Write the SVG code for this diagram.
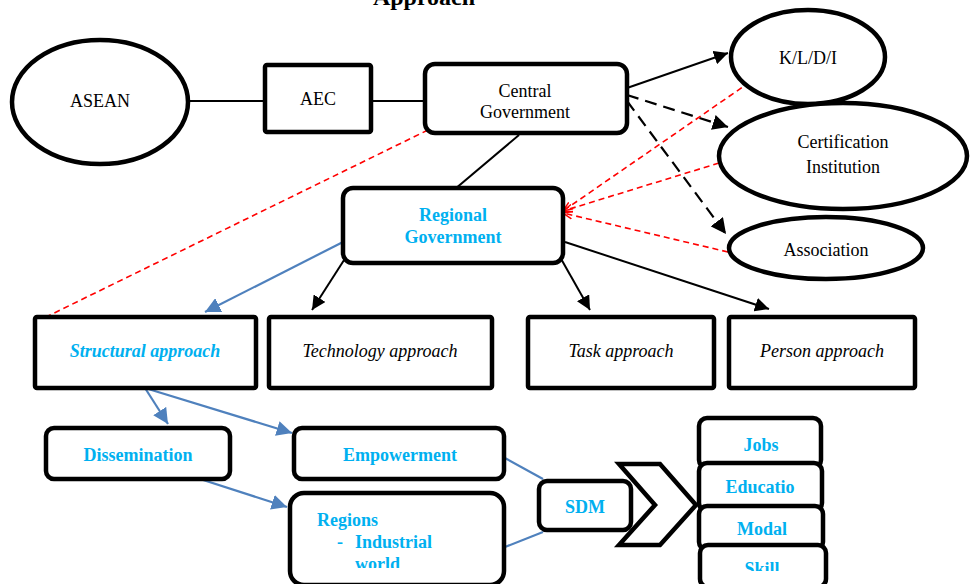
<svg xmlns="http://www.w3.org/2000/svg" width="973" height="584" viewBox="0 0 973 584">
<style>
text{font-family:"Liberation Serif","Times New Roman",serif;font-size:18px;fill:#000;text-anchor:middle}
.b{font-weight:bold;fill:#00B0F0}
.i{font-style:italic}
.sh{fill:#fff;stroke:#000;stroke-width:4.5}
.k{stroke:#000;stroke-width:2;fill:none}
.kd{stroke:#000;stroke-width:2.2;fill:none;stroke-dasharray:12,7}
.bl{stroke:#4F81BD;stroke-width:2.2;fill:none}
.rd{stroke:#FF0000;stroke-width:1.6;fill:none;stroke-dasharray:6,4}
</style>
<defs>
<marker id="ak" viewBox="0 0 10 10" refX="10" refY="5" markerWidth="7" markerHeight="7" orient="auto" markerUnits="strokeWidth"><path d="M0,0 L10,5 L0,10 z" fill="#000"/></marker>
<marker id="ab" viewBox="0 0 10 10" refX="10" refY="5" markerWidth="7" markerHeight="7" orient="auto" markerUnits="strokeWidth"><path d="M0,0 L10,5 L0,10 z" fill="#4F81BD"/></marker>
<marker id="ar" viewBox="0 0 10 10" refX="10" refY="5" markerWidth="6" markerHeight="6" orient="auto" markerUnits="strokeWidth"><path d="M0,1 L10,5 L0,9" fill="none" stroke="#FF0000" stroke-width="1.5"/></marker>
<clipPath id="cr"><rect x="289" y="492" width="216" height="76"/></clipPath>
<clipPath id="cs"><rect x="699" y="545" width="128" height="26"/></clipPath>
</defs>

<text x="424" y="5" style="font-weight:bold;font-size:24px">Approach</text>

<g id="connectors">
<line class="k" x1="189" y1="101" x2="265" y2="101"/>
<line class="k" x1="371" y1="101" x2="425" y2="101"/>
<line class="k" x1="519" y1="135" x2="455" y2="189"/>
<line class="k" x1="627" y1="88" x2="728" y2="53" marker-end="url(#ak)"/>
<line class="kd" x1="627" y1="95" x2="728" y2="127" marker-end="url(#ak)"/>
<line class="kd" x1="627" y1="101" x2="726" y2="234" marker-end="url(#ak)"/>
<line class="rd" x1="750" y1="82" x2="563" y2="211" marker-end="url(#ar)"/>
<line class="rd" x1="719" y1="163" x2="563" y2="211" marker-end="url(#ar)"/>
<line class="rd" x1="728" y1="252" x2="563" y2="213" marker-end="url(#ar)"/>
<line class="rd" x1="428" y1="130" x2="44" y2="318"/>
<line class="bl" x1="343" y1="242" x2="205" y2="312" marker-end="url(#ab)"/>
<line class="k" x1="346" y1="257" x2="312" y2="310" marker-end="url(#ak)"/>
<line class="k" x1="560" y1="257" x2="590" y2="310" marker-end="url(#ak)"/>
<line class="k" x1="565" y1="242" x2="769" y2="309" marker-end="url(#ak)"/>
<line class="bl" x1="145" y1="388" x2="168" y2="424" marker-end="url(#ab)"/>
<line class="bl" x1="145" y1="388" x2="292" y2="433" marker-end="url(#ab)"/>
<line class="bl" x1="197" y1="478" x2="287" y2="507" marker-end="url(#ab)"/>
<line class="bl" x1="503" y1="457" x2="543" y2="479"/>
<line class="bl" x1="505" y1="547" x2="543" y2="532"/>
</g>

<g id="asean"><ellipse class="sh" cx="100" cy="102" rx="88" ry="62"/><text x="100" y="107">ASEAN</text></g>
<g id="aec"><rect class="sh" x="265" y="65" width="106" height="67" rx="2"/><text x="318" y="105">AEC</text></g>
<g id="central"><rect class="sh" x="425" y="64" width="202" height="69" rx="10"/><text x="525" y="97">Central</text><text x="525" y="118">Government</text></g>
<g id="kldi"><ellipse class="sh" cx="808" cy="57" rx="77" ry="47"/><text x="808" y="64">K/L/D/I</text></g>
<g id="cert"><ellipse class="sh" cx="843" cy="156" rx="124" ry="53"/><text x="843" y="148">Certification</text><text x="843" y="173">Institution</text></g>
<g id="assoc"><ellipse class="sh" cx="826" cy="248" rx="97" ry="31"/><text x="826" y="256">Association</text></g>
<g id="regional"><rect class="sh" x="343" y="188" width="220" height="75" rx="10"/><text class="b" x="453" y="221">Regional</text><text class="b" x="453" y="243">Government</text></g>
<g id="structural"><rect class="sh" x="35" y="317" width="221" height="71" rx="2"/><text class="b i" x="145" y="357">Structural approach</text></g>
<g id="technology"><rect class="sh" x="269" y="317" width="223" height="71" rx="2"/><text class="i" x="380" y="357">Technology approach</text></g>
<g id="task"><rect class="sh" x="528" y="317" width="186" height="71" rx="2"/><text class="i" x="621" y="357">Task approach</text></g>
<g id="person"><rect class="sh" x="729" y="317" width="186" height="71" rx="2"/><text class="i" x="822" y="357">Person approach</text></g>
<g id="dissemination"><rect class="sh" x="46" y="428" width="184" height="51" rx="8"/><text class="b" x="138" y="461">Dissemination</text></g>
<g id="empowerment"><rect class="sh" x="294" y="428" width="210" height="51" rx="8"/><text class="b" x="400" y="461">Empowerment</text></g>
<g id="regions"><rect class="sh" x="290" y="493" width="214" height="92" rx="14"/><g clip-path="url(#cr)"><text class="b" x="317" y="526" style="text-anchor:start">Regions</text><text class="b" x="337" y="548" style="text-anchor:start">-</text><text class="b" x="355" y="548" style="text-anchor:start">Industrial</text><text class="b" x="355" y="570" style="text-anchor:start">world</text></g></g>
<g id="sdm"><rect class="sh" x="539" y="481" width="92" height="49" rx="8"/><text class="b" x="585" y="513">SDM</text></g>
<g id="chevron"><polygon class="sh" points="619,464 660,464 696,505 660,545 619,545 655,505"/></g>
<g id="jobs"><rect class="sh" x="699" y="418" width="122" height="50" rx="8"/><text class="b" x="761" y="451">Jobs</text></g>
<g id="education"><rect class="sh" x="699" y="463" width="123" height="48" rx="8"/><text class="b" x="760" y="493">Educatio</text></g>
<g id="modal"><rect class="sh" x="699" y="506" width="124" height="44" rx="8"/><text class="b" x="762" y="535">Modal</text></g>
<g id="skill"><rect class="sh" x="700" y="545" width="126" height="42" rx="8"/><g clip-path="url(#cs)"><text class="b" x="762" y="575">Skill</text></g></g>
</svg>
